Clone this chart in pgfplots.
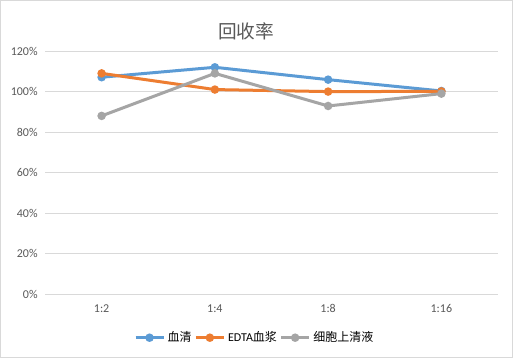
\documentclass[border=0pt]{standalone}
\usepackage{pgfplots}
\pgfplotsset{compat=1.18}
\usepackage{fontspec}
\setmainfont{Carlito}
\newfontfamily\cjk{Noto Sans CJK SC}
\definecolor{cblue}{HTML}{5B9BD5}
\definecolor{corange}{HTML}{ED7D31}
\definecolor{cgray}{HTML}{A5A5A5}
\definecolor{gridc}{HTML}{D9D9D9}
\definecolor{txt}{HTML}{595959}
\begin{document}
\begin{tikzpicture}[x=0.75pt,y=0.75pt]
\draw[color=gridc, line width=0.75pt, fill=white] (0.5,0.5) rectangle (512.5,357.5);
\node[text=txt, font=\cjk\fontsize{14}{16}\selectfont] at (246,327) {回收率};
\begin{axis}[
  at={(33.75pt,47.78pt)}, anchor=south west,
  scale only axis, width=339.75pt, height=182.25pt,
  xmin=-0.5, xmax=3.5, ymin=0, ymax=120,
  xtick={0,1,2,3}, xticklabels={1:2,1:4,1:8,1:16},
  ytick={0,20,40,60,80,100,120},
  yticklabel={\pgfmathprintnumber{\tick}\%},
  /pgf/number format/assume math mode=true,
  ymajorgrids, grid style={gridc, line width=0.75pt},
  axis line style={draw=none},
  major tick length=0pt,
  tick label style={font=\fontsize{9}{11}\selectfont, text=txt},
  yticklabel style={xshift=-2pt},
  xticklabel style={yshift=-4pt},
  clip=false,
  legend style={at={(0.4636,-0.1786)}, anchor=center, draw=none, fill=none,
    legend columns=3, font=\fontsize{9}{11}\selectfont,
    /tikz/every even column/.append style={column sep=0pt},
    inner sep=0pt},
  legend image code/.code={\draw[#1, mark repeat=2, mark phase=2] plot coordinates {(0pt,0pt) (10.5pt,0pt) (21pt,0pt)};},
  every axis plot/.append style={line width=2.25pt, mark=*, mark size=2pt, mark options={solid}},
]
\addplot[color=cblue] coordinates {(0,107.2) (1,112.1) (2,106.0) (3,100.4)};
\addlegendentry{\cjk 血清}
\addplot[color=corange] coordinates {(0,109.1) (1,101.1) (2,100.1) (3,100.2)};
\addlegendentry{EDTA{\cjk 血浆}}
\addplot[color=cgray] coordinates {(0,88.1) (1,109.1) (2,93.0) (3,99.1)};
\addlegendentry{\cjk 细胞上清液}
\end{axis}
\end{tikzpicture}
\end{document}
